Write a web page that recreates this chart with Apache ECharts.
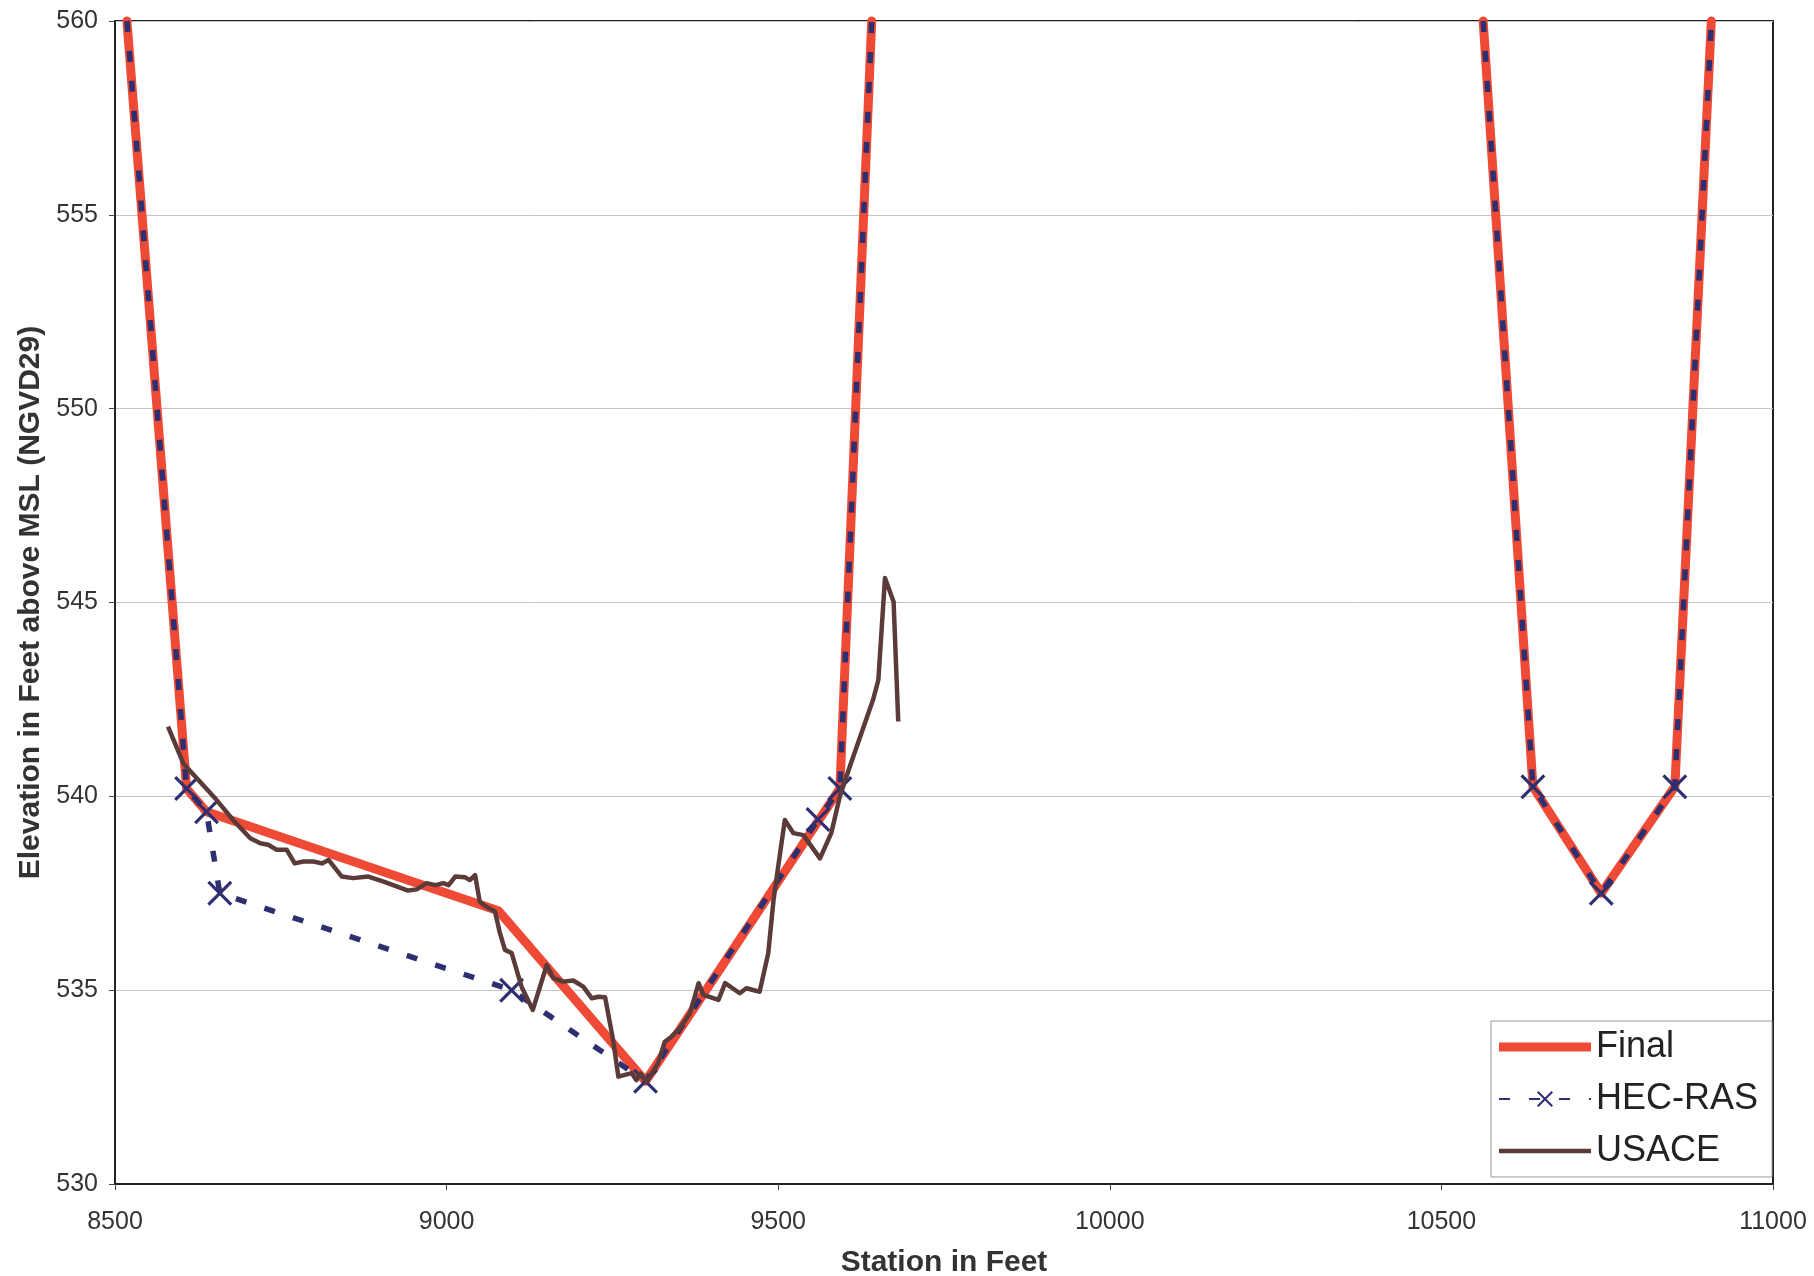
<!DOCTYPE html>
<html>
<head>
<meta charset="utf-8">
<script src="https://cdn.jsdelivr.net/npm/echarts@6.0.0/dist/echarts.min.js"></script>
<style>
html,body{margin:0;padding:0;background:#fff;}
#chart{width:1814px;height:1276px;}
</style>
</head>
<body>
<div id="chart"></div>
<script>
// ---- data (station in feet, elevation in feet) ----
const finalStations = [8518, 8608, 8638, 9078, 9300, 9593, 9641, null, 10563, 10638, 10741, 10852, 10907];
const finalElev     = [560, 540.2, 539.6, 537.05, 532.65, 540.2, 560, null, 560, 540.25, 537.5, 540.25, 560];

const hecStations = [8518, 8608, 8638, 8658, 9098, 9300, 9560, 9593, 9641, null, 10563, 10638, 10741, 10852, 10907];
const hecElev     = [560, 540.2, 539.6, 537.5, 535.0, 532.65, 539.4, 540.2, 560, null, 560, 540.25, 537.5, 540.25, 560];

const usaceStations = [8580, 8603, 8623, 8653, 8678, 8704, 8719, 8731, 8744, 8759, 8771, 8784, 8799, 8812, 8822, 8842, 8859, 8882, 8905, 8942, 8955, 8970, 8983, 8995, 9003, 9013, 9028, 9035, 9043, 9050, 9060, 9073, 9080, 9088, 9098, 9113, 9130, 9151, 9161, 9176, 9191, 9206, 9219, 9229, 9239, 9251, 9259, 9279, 9286, 9292, 9302, 9319, 9329, 9339, 9352, 9367, 9380, 9387, 9410, 9420, 9442, 9452, 9472, 9485, 9493, 9500, 9510, 9523, 9538, 9563, 9580, 9593, 9608, 9643, 9651, 9661, 9674, 9681];
const usaceElev     = [541.8, 540.85, 540.47, 539.91, 539.39, 538.92, 538.79, 538.75, 538.62, 538.62, 538.27, 538.32, 538.32, 538.27, 538.36, 537.93, 537.89, 537.93, 537.80, 537.57, 537.60, 537.76, 537.71, 537.76, 537.71, 537.93, 537.91, 537.84, 537.97, 537.28, 537.15, 537.03, 536.5, 536.04, 535.96, 535.09, 534.49, 535.65, 535.31, 535.22, 535.25, 535.09, 534.79, 534.83, 534.82, 533.72, 532.77, 532.86, 532.68, 532.85, 532.64, 533.12, 533.67, 533.80, 534.02, 534.41, 535.18, 534.88, 534.75, 535.18, 534.92, 535.05, 534.96, 535.95, 537.33, 538.19, 539.39, 539.05, 539.00, 538.40, 539.05, 540.0, 540.77, 542.49, 543.0, 545.63, 545.02, 541.93];

const xTicks = {min: 8500, max: 11000, interval: 500};
const yTicks = {min: 530, max: 560, interval: 5};
const seriesNames = ['Final', 'HEC-RAS', 'USACE'];

// ---- build ----
function pairs(xs, ys, hideTop) {
  return xs.map((x, i) => {
    if (x === null || ys[i] === null) return ['-', '-'];
    if (hideTop && ys[i] >= yTicks.max) return {value: [x, ys[i]], symbol: 'none'};
    return [x, ys[i]];
  });
}

const FONT = '"Liberation Sans", Arial, sans-serif';
const RED = '#ee4a36', NAVY = '#2e2f70', BROWN = '#5b3b39';
const chart = echarts.init(document.getElementById('chart'), null, {renderer: 'canvas'});
const xPath = 'path://M0,0.9L0.9,0L5,4.1L9.1,0L10,0.9L5.9,5L10,9.1L9.1,10L5,5.9L0.9,10L0,9.1L4.1,5Z';

chart.setOption({
  animation: false,
  backgroundColor: '#ffffff',
  grid: {left: 115, top: 21, right: 41, bottom: 92, show: true, containLabel: false, outerBoundsMode: 'none',
         borderColor: '#222', borderWidth: 2, backgroundColor: 'transparent'},
  xAxis: {
    type: 'value', min: xTicks.min, max: xTicks.max, interval: xTicks.interval,
    name: 'Station in Feet', nameLocation: 'middle', nameGap: 64,
    nameTextStyle: {fontFamily: FONT, fontWeight: 'bold', fontSize: 30, color: '#333'},
    axisLine: {show: true, onZero: false, lineStyle: {color: '#222', width: 2}},
    axisTick: {show: true, length: 6, lineStyle: {color: '#444'}},
    axisLabel: {fontFamily: FONT, fontSize: 25, color: '#333', margin: 26, formatter: v => String(v)},
    splitLine: {show: false}
  },
  yAxis: {
    type: 'value', min: yTicks.min, max: yTicks.max, interval: yTicks.interval,
    name: 'Elevation in Feet above MSL (NGVD29)', nameLocation: 'middle', nameGap: 69,
    nameTextStyle: {fontFamily: FONT, fontWeight: 'bold', fontSize: 30, color: '#333'},
    axisLine: {show: true, onZero: false, lineStyle: {color: '#222', width: 2}},
    axisTick: {show: true, length: 6, lineStyle: {color: '#444'}},
    axisLabel: {fontFamily: FONT, fontSize: 25, color: '#333', margin: 17, formatter: v => String(v)},
    splitLine: {show: true, lineStyle: {color: '#c4c4c4', width: 1}}
  },
  legend: {
    orient: 'vertical', left: 1491, top: 1021,
    itemWidth: 92, itemHeight: 20, itemGap: 16,
    padding: [8, 14, 8, 7],
    backgroundColor: '#fff', borderColor: '#999', borderWidth: 1,
    textStyle: {fontFamily: FONT, fontSize: 36, color: '#222'},
    data: [
      {name: seriesNames[0], icon: 'path://M0,0H92V9H0Z'},
      {name: seriesNames[1]},
      {name: seriesNames[2], icon: 'path://M0,0H92V4.5H0Z'}
    ]
  },
  series: [
    {
      name: seriesNames[0], type: 'line', data: pairs(finalStations, finalElev, false),
      symbol: 'none', clip: false, connectNulls: false, z: 2,
      lineStyle: {color: RED, width: 9, join: 'round', cap: 'round'},
      itemStyle: {color: RED}
    },
    {
      name: seriesNames[1], type: 'line', data: pairs(hecStations, hecElev, true),
      symbol: xPath, symbolSize: 25, clip: false, connectNulls: false, z: 3,
      showAllSymbol: true,
      lineStyle: {color: NAVY, width: 5.5, type: [11, 19]},
      itemStyle: {color: NAVY}
    },
    {
      name: seriesNames[2], type: 'line', data: pairs(usaceStations, usaceElev, false),
      symbol: 'none', z: 4,
      lineStyle: {color: BROWN, width: 4.5, join: 'round'},
      itemStyle: {color: BROWN}
    }
  ]
});
</script>
</body>
</html>
